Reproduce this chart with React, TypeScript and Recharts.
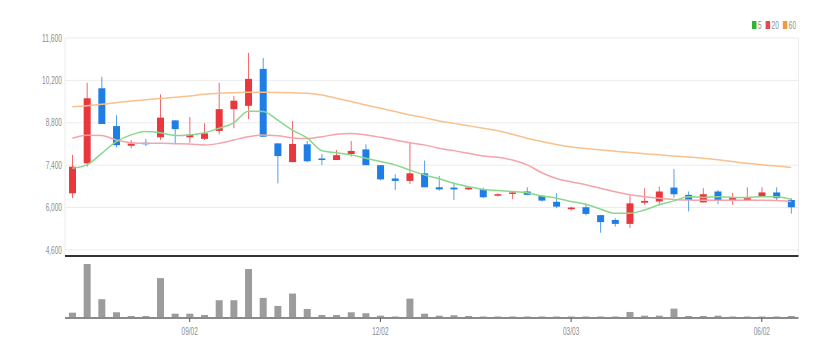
import React from "react";
import { ComposedChart, Bar, Line, XAxis, YAxis, CartesianGrid } from "recharts";

const dates = [
  "07/08", "07/15", "07/22", "07/29", "08/05", "08/12", "08/19", "08/26", "09/02", "09/09",
  "09/16", "09/23", "09/30", "10/07", "10/14", "10/21", "10/28", "11/04", "11/11", "11/18",
  "11/25", "12/02", "12/09", "12/16", "12/23", "12/30", "01/06", "01/13", "01/20", "01/27",
  "02/03", "02/10", "02/17", "02/24", "03/03", "03/10", "03/17", "03/24", "03/31", "04/07",
  "04/14", "04/21", "04/28", "05/05", "05/12", "05/19", "05/26", "06/02", "06/09", "06/16",
];

const opens = [
  6470, 7460, 9940, 8690, 8040, 8140, 8320, 8880, 8320, 8270,
  8530, 9250, 9360, 10580, 8120, 7500, 8090, 7620, 7570, 7770,
  7920, 7400, 6960, 6880, 7130, 6670, 6660, 6600, 6610, 6400,
  6460, 6530, 6390, 6190, 5945, 6010, 5750, 5590, 5460, 6160,
  6200, 6660, 6420, 6170, 6530, 6250, 6230, 6360, 6500, 6250,
];
const highs = [
  7740, 10120, 10320, 9050, 8230, 8270, 9740, 8880, 8990, 8780,
  10120, 9690, 11110, 10940, 8120, 8860, 8200, 7770, 7900, 8200,
  8090, 7400, 7100, 8140, 7550, 7040, 6820, 6700, 6660, 6470,
  6550, 6670, 6400, 6470, 6030, 6130, 5750, 5650, 6400, 6640,
  6690, 7270, 6530, 6640, 6580, 6490, 6670, 6670, 6670, 6310,
];
const lows = [
  6310, 7350, 8760, 7990, 7960, 8030, 8230, 8120, 8140, 8230,
  8420, 8620, 8920, 8340, 6800, 7500, 7500, 7400, 7570, 7680,
  7400, 6900, 6580, 6780, 6670, 6560, 6250, 6580, 6310, 6370,
  6280, 6410, 6200, 5980, 5900, 5740, 5170, 5370, 5320, 6090,
  6090, 6330, 5870, 6170, 6110, 6090, 6220, 6360, 6250, 5800,
];
const closes = [
  7350, 9610, 8760, 8060, 8110, 8090, 8970, 8590, 8410, 8450,
  9250, 9530, 10250, 8340, 7700, 8100, 7530, 7570, 7730, 7870,
  7400, 6930, 6880, 7130, 6670, 6600, 6600, 6660, 6340, 6440,
  6500, 6420, 6230, 6030, 6000, 5790, 5520, 5460, 6140, 6220,
  6530, 6440, 6250, 6440, 6250, 6330, 6310, 6500, 6310, 6010,
];

const ma5 = [
  7300, 7410, 7790, 8180, 8400, 8510, 8470, 8380, 8400, 8470,
  8620, 8800, 9180, 9170, 8890, 8560, 8300, 7880, 7810, 7740,
  7630, 7520, 7410, 7240, 7080, 6950, 6800, 6690, 6600, 6560,
  6530, 6490, 6380, 6310, 6200, 6110, 5950, 5810, 5810, 5920,
  6090, 6220, 6360, 6330, 6360, 6330, 6330, 6360, 6360, 6270,
];
const ma20 = [
  8290, 8390, 8380, 8230, 8140, 8120, 8120, 8110, 8100, 8070,
  8120, 8230, 8340, 8400, 8370, 8300, 8280, 8340, 8420, 8450,
  8400, 8320, 8230, 8140, 8070, 7960, 7880, 7790, 7700, 7660,
  7570, 7410, 7150, 6960, 6850, 6750, 6640, 6520, 6420, 6360,
  6310, 6270, 6250, 6240, 6240, 6240, 6240, 6240, 6230, 6200,
];
const ma60 = [
  9330, 9365, 9410, 9465, 9520, 9560, 9600, 9640, 9685, 9740,
  9775, 9795, 9805, 9805, 9800, 9790, 9775, 9720, 9610, 9500,
  9390, 9280, 9170, 9060, 8970, 8860, 8780, 8700, 8620, 8540,
  8420, 8290, 8180, 8080, 8000, 7950, 7900, 7860, 7820, 7780,
  7740, 7700, 7670, 7630, 7580, 7520, 7460, 7410, 7370, 7320,
];

const volumes = [
  5300, 53700, 18700, 5700, 2000, 2000, 39700, 4300, 4300, 3000,
  17700, 17700, 48700, 20000, 12000, 24300, 9000, 3000, 3000, 5700,
  4700, 2300, 1500, 19300, 4300, 2300, 2700, 2000, 1500, 1500,
  1500, 1500, 1500, 1500, 1500, 1500, 1500, 1500, 6000, 2300,
  2300, 9300, 2000, 2000, 2300, 1500, 1500, 1500, 1500, 2000,
];

const priceTicks = [4600, 6000, 7400, 8800, 10200, 11600];
const dateTicks = ["09/02", "12/02", "03/03", "06/02"];

const UP = "#e8383d";
const DOWN = "#1f7ee6";
const FONT = "'Liberation Sans', Arial, sans-serif";
const LABEL = "#8c8c8c";

const rows = dates.map((d, i) => ({
  date: d,
  open: opens[i],
  high: highs[i],
  low: lows[i],
  close: closes[i],
  range: [lows[i], highs[i]],
  ma5: ma5[i],
  ma20: ma20[i],
  ma60: ma60[i],
  volume: volumes[i],
}));

// squeezed text to mimic the condensed label font
const narrowWidth = (s: string) =>
  s.split("").reduce((w, c) => w + (/[0-9]/.test(c) ? 3.6 : 1.9), 0);

const PriceTick = (props: any) => {
  const { x, y, payload } = props;
  const s = Number(payload.value).toLocaleString("en-US");
  return (
    <text x={x} y={y} dy="0.35em" textAnchor="end" fontSize={10.5} fill={LABEL} fontFamily={FONT}
      textLength={narrowWidth(s)} lengthAdjust="spacingAndGlyphs">
      {s}
    </text>
  );
};

const DateTick = (props: any) => {
  const { x, y, payload } = props;
  const s = String(payload.value);
  return (
    <text x={x} y={y} dy="0.71em" textAnchor="middle" fontSize={10.5} fill={LABEL} fontFamily={FONT}
      textLength={narrowWidth(s)} lengthAdjust="spacingAndGlyphs">
      {s}
    </text>
  );
};

const Candle = (props: any) => {
  const { x, y, width, height, payload } = props;
  if (!payload) return null;
  const { open, close, high, low } = payload;
  const k = height / (high - low || 1);
  const top = y + (high - Math.max(open, close)) * k;
  const bot = y + (high - Math.min(open, close)) * k;
  const color = close >= open ? UP : DOWN;
  const cx = x + width / 2;
  return (
    <g>
      <line x1={cx} x2={cx} y1={y} y2={y + height} stroke={color} strokeWidth={1} strokeOpacity={0.75} />
      <rect x={x} y={top} width={width} height={Math.max(bot - top, 1.5)} fill={color} />
    </g>
  );
};

const legend = [
  { color: "#2fb52f", label: "5" },
  { color: "#e8474c", label: "20" },
  { color: "#f09a3e", label: "60" },
];

export default function App() {
  let lx = 752;
  return (
    <div style={{ position: "absolute", left: 0, top: 0, width: 839, height: 357, background: "#fff" }}>
      <svg width={839} height={36} style={{ position: "absolute", left: 0, top: 0 }}>
        {legend.map((it) => {
          const x0 = lx;
          const tw = narrowWidth(it.label);
          lx += 5 + 1.5 + tw + 3.5;
          return (
            <g key={it.label}>
              <rect x={x0} y={21} width={4.5} height={8} fill={it.color} />
              <text x={x0 + 6} y={25} dy="0.35em" fontSize={10.5} fill={LABEL} fontFamily={FONT}
                textLength={tw} lengthAdjust="spacingAndGlyphs">
                {it.label}
              </text>
            </g>
          );
        })}
      </svg>

      <div style={{ position: "absolute", left: 0, top: 0 }}>
        <ComposedChart width={839} height={260} data={rows} margin={{ top: 38, right: 40.5, bottom: 0, left: 0 }}>
          <CartesianGrid stroke="#ececec" strokeWidth={1} />
          <XAxis
            dataKey="date"
            ticks={dateTicks}
            interval={0}
            tick={false}
            tickLine={false}
            height={4}
            axisLine={{ stroke: "#333", strokeWidth: 2 }}
          />
          <YAxis
            domain={[4400, 11600]}
            allowDataOverflow
            ticks={priceTicks}
            width={65}
            tickSize={0}
            tickMargin={3}
            axisLine={false}
            tickLine={false}
            tick={<PriceTick />}
          />
          <Line type="monotone" dataKey="ma60" stroke="#f8c18e" strokeWidth={1.5} dot={false} isAnimationActive={false} />
          <Line type="monotone" dataKey="ma20" stroke="#f4a4aa" strokeWidth={1.5} dot={false} isAnimationActive={false} />
          <Line type="monotone" dataKey="ma5" stroke="#8ad88c" strokeWidth={1.5} dot={false} isAnimationActive={false} />
          <Bar dataKey="range" barSize={7} shape={<Candle />} isAnimationActive={false} />
        </ComposedChart>
      </div>

      <div style={{ position: "absolute", left: 0, top: 256 }}>
        <ComposedChart width={839} height={101} data={rows} margin={{ top: 6, right: 40.5, bottom: 0, left: 65 }}>
          <XAxis
            dataKey="date"
            ticks={dateTicks}
            interval={0}
            height={39}
            tickSize={4}
            tickMargin={6}
            axisLine={{ stroke: "#8a8a8a", strokeWidth: 2 }}
            tickLine={{ stroke: "#555" }}
            tick={<DateTick />}
          />
          <YAxis hide domain={[0, 55700]} />
          <Bar dataKey="volume" barSize={7} fill="#9c9c9c" isAnimationActive={false} />
        </ComposedChart>
      </div>
    </div>
  );
}
